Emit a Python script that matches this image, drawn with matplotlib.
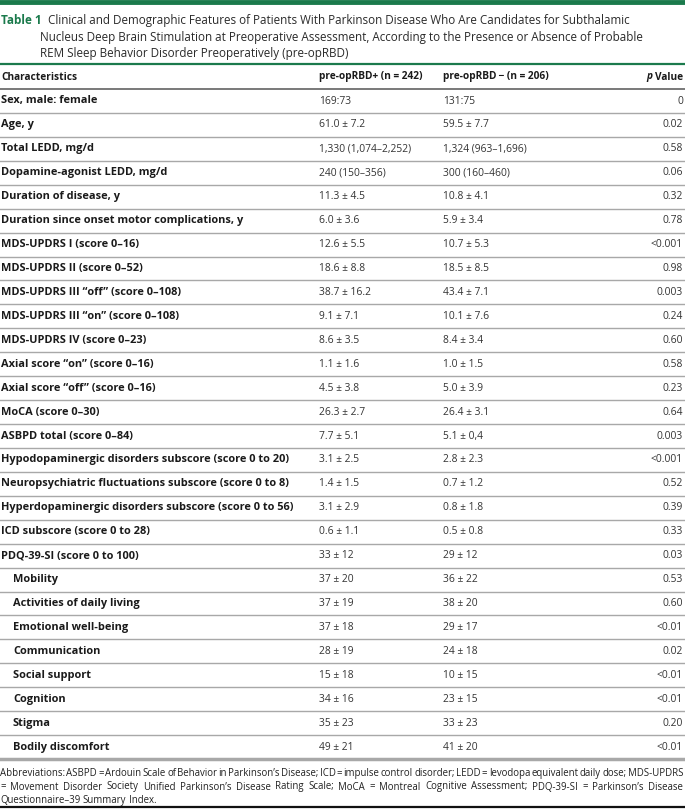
import matplotlib
matplotlib.use("Agg")
import matplotlib.pyplot as plt
from matplotlib import font_manager

GREEN = "#1b7a4c"

names = {f.name for f in font_manager.fontManager.ttflist}
NARROW = "Liberation Sans Narrow" if "Liberation Sans Narrow" in names else "Open Sans"

title_lines = [
    "Clinical and Demographic Features of Patients With Parkinson Disease Who Are Candidates for Subthalamic",
    "Nucleus Deep Brain Stimulation at Preoperative Assessment, According to the Presence or Absence of Probable",
    "REM Sleep Behavior Disorder Preoperatively (pre-opRBD)",
]

headers = ["Characteristics", "pre-opRBD+ (n = 242)", "pre-opRBD\u2009\u2212 (n = 206)", "Value"]

labels = [
    "Sex, male: female", "Age, y", "Total LEDD, mg/d", "Dopamine-agonist LEDD, mg/d",
    "Duration of disease, y", "Duration since onset motor complications, y",
    "MDS-UPDRS I (score 0\u201316)", "MDS-UPDRS II (score 0\u201352)",
    "MDS-UPDRS III \u201coff\u201d (score 0\u2013108)", "MDS-UPDRS III \u201con\u201d (score 0\u2013108)",
    "MDS-UPDRS IV (score 0\u201323)", "Axial score \u201con\u201d (score 0\u201316)",
    "Axial score \u201coff\u201d (score 0\u201316)", "MoCA (score 0\u201330)", "ASBPD total (score 0\u201384)",
    "Hypodopaminergic disorders subscore (score 0 to 20)",
    "Neuropsychiatric fluctuations subscore (score 0 to 8)",
    "Hyperdopaminergic disorders subscore (score 0 to 56)",
    "ICD subscore (score 0 to 28)", "PDQ-39-SI (score 0 to 100)",
    "Mobility", "Activities of daily living", "Emotional well-being", "Communication",
    "Social support", "Cognition", "Stigma", "Bodily discomfort",
]
plus_vals = [
    "169:73", "61.0 \u00b1 7.2", "1,330 (1,074\u20132,252)", "240 (150\u2013356)", "11.3 \u00b1 4.5",
    "6.0 \u00b1 3.6", "12.6 \u00b1 5.5", "18.6 \u00b1 8.8", "38.7 \u00b1 16.2", "9.1 \u00b1 7.1",
    "8.6 \u00b1 3.5", "1.1 \u00b1 1.6", "4.5 \u00b1 3.8", "26.3 \u00b1 2.7", "7.7 \u00b1 5.1",
    "3.1 \u00b1 2.5", "1.4 \u00b1 1.5", "3.1 \u00b1 2.9", "0.6 \u00b1 1.1", "33 \u00b1 12",
    "37 \u00b1 20", "37 \u00b1 19", "37 \u00b1 18", "28 \u00b1 19", "15 \u00b1 18", "34 \u00b1 16",
    "35 \u00b1 23", "49 \u00b1 21",
]
minus_vals = [
    "131:75", "59.5 \u00b1 7.7", "1,324 (963\u20131,696)", "300 (160\u2013460)", "10.8 \u00b1 4.1",
    "5.9 \u00b1 3.4", "10.7 \u00b1 5.3", "18.5 \u00b1 8.5", "43.4 \u00b1 7.1", "10.1 \u00b1 7.6",
    "8.4 \u00b1 3.4", "1.0 \u00b1 1.5", "5.0 \u00b1 3.9", "26.4 \u00b1 3.1", "5.1 \u00b1 0,4",
    "2.8 \u00b1 2.3", "0.7 \u00b1 1.2", "0.8 \u00b1 1.8", "0.5 \u00b1 0.8", "29 \u00b1 12",
    "36 \u00b1 22", "38 \u00b1 20", "29 \u00b1 17", "24 \u00b1 18", "10 \u00b1 15", "23 \u00b1 15",
    "33 \u00b1 23", "41 \u00b1 20",
]
p_vals = [
    "0", "0.02", "0.58", "0.06", "0.32", "0.78", "<0.001", "0.98", "0.003", "0.24", "0.60",
    "0.58", "0.23", "0.64", "0.003", "<0.001", "0.52", "0.39", "0.33", "0.03",
    "0.53", "0.60", "<0.01", "0.02", "<0.01", "<0.01", "0.20", "<0.01",
]
subrows = {"Mobility", "Activities of daily living", "Emotional well-being", "Communication",
           "Social support", "Cognition", "Stigma", "Bodily discomfort"}

footnote_lines = [
    "Abbreviations: ASBPD = Ardouin Scale of Behavior in Parkinson\u2019s Disease; ICD = impulse control "
    "disorder; LEDD = levodopa equivalent daily dose; MDS-UPDRS",
    "= Movement Disorder Society Unified Parkinson\u2019s Disease Rating Scale; MoCA = Montreal Cognitive "
    "Assessment; PDQ-39-SI = Parkinson\u2019s Disease",
    "Questionnaire\u201339 Summary Index.",
]

W, H = 685, 811
fig = plt.figure(figsize=(W / 100, H / 100), dpi=100)
ax = fig.add_axes([0, 0, 1, 1])
ax.set_xlim(0, W)
ax.set_ylim(H, 0)
ax.axis("off")
fig.canvas.draw()
renderer = fig.canvas.get_renderer()


def text_w(s, **kw):
    t = ax.text(0, 0, s, **kw)
    w = t.get_window_extent(renderer).width
    t.remove()
    return w


# top band + title
ax.axhline(2, color=GREEN, lw=3.5)
tb_size = 10.0 * 41 / text_w("Table 1", fontsize=10.0, fontweight="bold", family=NARROW)
ax.text(1, 24, "Table 1", color=GREEN, fontsize=tb_size, fontweight="bold", family=NARROW, va="baseline")
t_size = 10.0 * 582 / text_w(title_lines[0], fontsize=10.0, family=NARROW)
for i, line in enumerate(title_lines):
    ax.text(48 if i == 0 else 40, 24 + i * 16.7, line, color="#2a2a2a", fontsize=t_size,
            family=NARROW, va="baseline")
ax.axhline(64, color=GREEN, lw=1.6)

col_x = [1, 319, 443]
p_right = 683
HEAD_Y = 77
ROW0 = 101
ROW_H = 23.93
LAB_FS = 7.9
VAL_FS = 7.4

hd = dict(fontsize=7.3, fontweight="bold", va="center", color="#1a1a1a")
ax.text(col_x[0], HEAD_Y, headers[0], family=NARROW, **hd)
ax.text(col_x[1], HEAD_Y, headers[1], family=NARROW, **hd)
ax.text(col_x[2], HEAD_Y, headers[2], family=[NARROW, "DejaVu Sans"], **hd)
ax.text(p_right, HEAD_Y, headers[3], family=NARROW, ha="right", **hd)
vw = text_w(" " + headers[3], family=NARROW, **hd)
ax.text(p_right - vw, HEAD_Y, "p", style="italic", family=NARROW, ha="right", **hd)
ax.axhline(89, color="#555555", lw=1.1)

for i, lab in enumerate(labels):
    y = ROW0 + i * ROW_H
    x0 = col_x[0] + (12 if lab in subrows else 0)
    ax.text(x0, y, lab, fontsize=LAB_FS, fontweight="bold", family=NARROW, va="center", color="#1a1a1a")
    ax.text(col_x[1], y, plus_vals[i], fontsize=VAL_FS, family=NARROW, va="center", color="#333333")
    ax.text(col_x[2], y, minus_vals[i], fontsize=VAL_FS, family=NARROW, va="center", color="#333333")
    ax.text(p_right, y, p_vals[i], fontsize=VAL_FS, family=NARROW, va="center", ha="right", color="#333333")
    if i < len(labels) - 1:
        ax.axhline(y + ROW_H / 2, color="#a8a8a8", lw=1.0)
ax.axhline(ROW0 + (len(labels) - 0.5) * ROW_H, color="#a8a8a8", lw=2.5)

# footnote, justified by hand
fn_size = 7.0 * 158 / text_w(footnote_lines[2], fontsize=7.0, family=NARROW)
fn_kw = dict(fontsize=fn_size, family=NARROW, va="baseline", color="#222222")
space = text_w("a a", **fn_kw) - text_w("aa", **fn_kw)
FN_Y = 776
for li, line in enumerate(footnote_lines):
    y = FN_Y + li * 13.5
    words = line.split(" ")
    widths = [text_w(w, **fn_kw) for w in words]
    if li < len(footnote_lines) - 1:
        gap = (W - 2 - sum(widths)) / (len(words) - 1)
    else:
        gap = space
    x = 0
    for w, wd in zip(words, widths):
        ax.text(x, y, w, **fn_kw)
        x += wd + gap

ax.axhline(807, color="#111111", lw=1.6)

fig.savefig("out.png", dpi=100)
